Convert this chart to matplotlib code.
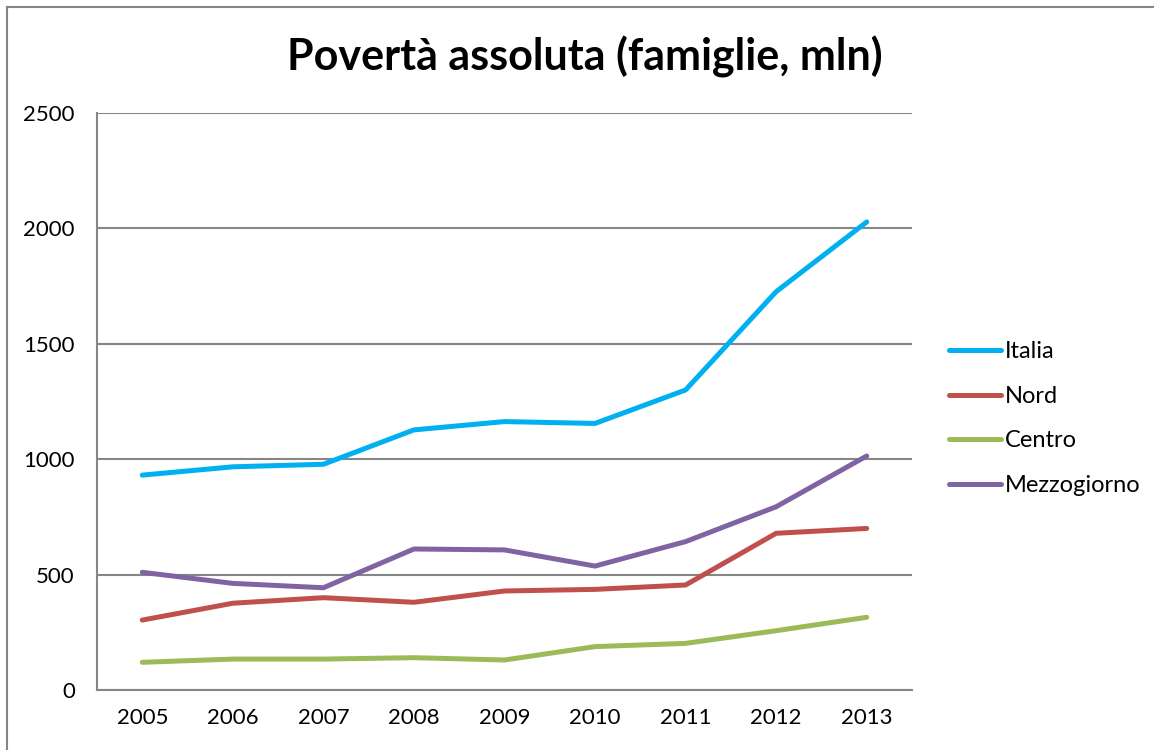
import matplotlib.pyplot as plt
from matplotlib.lines import Line2D

# Data
years = [2005, 2006, 2007, 2008, 2009, 2010, 2011, 2012, 2013]
italia = [931, 967, 978, 1127, 1163, 1155, 1300, 1726, 2028]
nord = [303, 376, 400, 380, 429, 436, 455, 679, 700]
centro = [120, 134, 134, 140, 130, 188, 202, 257, 315]
mezzogiorno = [510, 462, 443, 611, 607, 537, 643, 794, 1014]

series = [
    ('Italia', italia, '#00b0f0'),
    ('Nord', nord, '#c0504d'),
    ('Centro', centro, '#9bbb59'),
    ('Mezzogiorno', mezzogiorno, '#8064a2'),
]

yticks = [0, 500, 1000, 1500, 2000, 2500]
title = 'Povertà assoluta (famiglie, mln)'

plt.rcParams['font.family'] = ['Lato', 'DejaVu Sans']

W, H = 1154, 750
fig = plt.figure(figsize=(W / 100, H / 100), dpi=100)
ax = fig.add_axes([97 / W, 1 - 690 / H, (912 - 97) / W, (690 - 113) / H])

grid_col = '#868686'
for name, vals, col in series:
    ax.plot(years, vals, color=col, lw=3.6, solid_capstyle='round',
            solid_joinstyle='round', label=name, zorder=3)

ax.set_xlim(2004.5, 2013.5)
ax.set_ylim(0, 2500)
ax.set_yticks(yticks)
ax.set_xticks(years)
ax.set_yticklabels([str(v) for v in yticks])
ax.set_xticklabels([str(y) for y in years])
ax.tick_params(axis='both', length=0, labelsize=16, colors='black')
ax.tick_params(axis='y', pad=16)
ax.tick_params(axis='x', pad=13)
ax.yaxis.grid(True, color=grid_col, lw=1.5)
ax.set_axisbelow(True)
for s in ('top', 'right'):
    ax.spines[s].set_visible(False)
for s in ('left', 'bottom'):
    ax.spines[s].set_color(grid_col)
    ax.spines[s].set_linewidth(1.5)

fig.text(585 / W, 1 - 57 / H, title, ha='center', va='center',
         fontsize=31, fontweight='bold')

handles = [Line2D([0], [0], color=c, lw=3.6, solid_capstyle='round')
           for _, _, c in series]
fig.legend(handles, [n for n, _, _ in series], loc='upper left',
           bbox_to_anchor=(928 / W, 1 - 320 / H), frameon=False,
           fontsize=17, handlelength=2.2, handletextpad=0.15,
           labelspacing=1.0)

# outer chart border
fig.add_artist(Line2D([7 / W, 1], [1 - 7 / H, 1 - 7 / H], color=grid_col, lw=1.5,
                      transform=fig.transFigure))
fig.add_artist(Line2D([7 / W, 7 / W], [0, 1 - 7 / H], color=grid_col, lw=1.5,
                      transform=fig.transFigure))

fig.savefig('out.png', dpi=100)
